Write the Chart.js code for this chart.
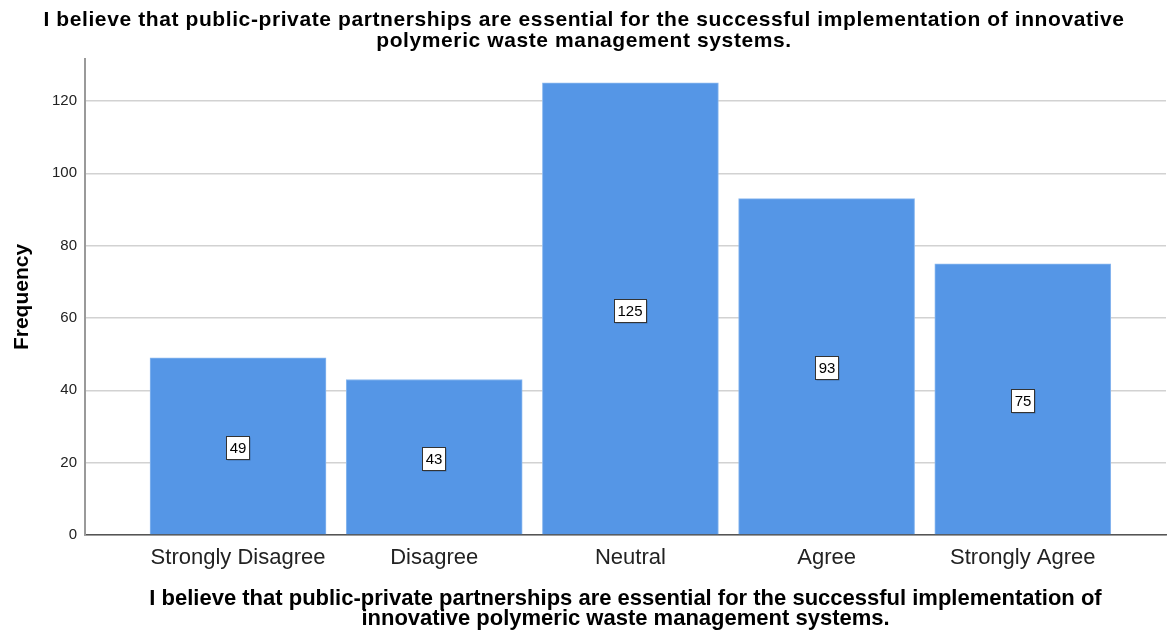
<!DOCTYPE html>
<html>
<head>
<meta charset="utf-8">
<script src="https://cdn.jsdelivr.net/npm/chart.js@4.4.1/dist/chart.umd.min.js"></script>
<style>
  html, body { margin: 0; padding: 0; background: #ffffff; }
  #wrap { width: 1167px; height: 633px; position: relative; }
</style>
</head>
<body>
<div id="wrap"><canvas id="chart" width="1167" height="633"></canvas></div>
<script>
// Survey item responses (frequency counts)
const categories = ['Strongly Disagree', 'Disagree', 'Neutral', 'Agree', 'Strongly Agree'];
const frequencies = [49, 43, 125, 93, 75];
const yTicks = [0, 20, 40, 60, 80, 100, 120];
const titleLines = [
  'I believe that public-private partnerships are essential for the successful implementation of innovative',
  'polymeric waste management systems.'
];
const xTitleLines = [
  'I believe that public-private partnerships are essential for the successful implementation of',
  'innovative polymeric waste management systems.'
];

const FONT = '"Liberation Sans", Arial, Helvetica, sans-serif';

// Chart title drawn above the plot area
const topTitle = {
  id: 'topTitle',
  afterDraw(chart) {
    const ctx = chart.ctx;
    ctx.save();
    ctx.fillStyle = '#000';
    ctx.font = 'bold 21px ' + FONT;
    if ('letterSpacing' in ctx) ctx.letterSpacing = '0.6px';
    ctx.textAlign = 'center';
    ctx.textBaseline = 'middle';
    titleLines.forEach((line, i) => ctx.fillText(line, 584, 20 + i * 21));
    ctx.restore();
  }
};

// Boxed value labels at the middle of each bar
const valueBoxes = {
  id: 'valueBoxes',
  afterDatasetsDraw(chart) {
    const ctx = chart.ctx;
    const meta = chart.getDatasetMeta(0);
    ctx.save();
    ctx.font = '15px ' + FONT;
    ctx.textAlign = 'center';
    ctx.textBaseline = 'middle';
    meta.data.forEach((bar, i) => {
      const text = String(frequencies[i]);
      const cx = Math.round(bar.x);
      const cy = Math.round((bar.y + bar.base) / 2) + 2;
      const w = Math.ceil(ctx.measureText(text).width) + 6;
      const h = 23;
      const x0 = cx - Math.round(w / 2) + 0.5;
      const y0 = cy - Math.round(h / 2) + 0.5;
      ctx.fillStyle = 'rgba(0,0,0,0.25)';
      ctx.fillRect(x0 + 1, y0 + 1, w, h);
      ctx.fillStyle = '#ffffff';
      ctx.fillRect(x0, y0, w, h);
      ctx.strokeStyle = '#333333';
      ctx.lineWidth = 1;
      ctx.strokeRect(x0, y0, w, h);
      ctx.fillStyle = '#000';
      ctx.fillText(text, cx, cy + 1);
    });
    ctx.restore();
  }
};

new Chart(document.getElementById('chart'), {
  type: 'bar',
  data: {
    datasets: [{
      data: frequencies.map((v, i) => ({ x: i, y: v })),
      backgroundColor: '#5596e6',
      borderColor: '#8ab8ef',
      borderWidth: 1,
      barThickness: 176
    }]
  },
  options: {
    responsive: false,
    animation: false,
    events: [],
    layout: { padding: { top: 59, right: 1, left: 0, bottom: 0 } },
    plugins: {
      legend: { display: false },
      tooltip: { enabled: false }
    },
    scales: {
      x: {
        type: 'linear',
        offset: false,
        min: -0.78,
        max: 4.73,
        afterBuildTicks(scale) {
          scale.ticks = categories.map((c, i) => ({ value: i }));
        },
        afterFit(scale) { scale.height = 98; },
        grid: { display: false, drawTicks: false, offset: false },
        border: { display: true, color: '#555555', width: 1.5 },
        ticks: {
          padding: 10,
          color: '#222',
          font: { family: FONT, size: 22 },
          callback: (v) => categories[v] ?? ''
        },
        title: {
          display: true,
          text: xTitleLines,
          color: '#000',
          font: { family: FONT, size: 22, weight: 'bold', lineHeight: 0.9 },
          padding: { top: 0, bottom: 4 }
        }
      },
      y: {
        min: 0,
        max: 131.6,
        afterBuildTicks(scale) {
          scale.ticks = yTicks.map(v => ({ value: v }));
        },
        afterFit(scale) { scale.width = 85; },
        grid: { color: '#d2d2d2', lineWidth: 1.5, drawTicks: false },
        border: { display: true, color: '#9a9a9a', width: 2 },
        ticks: {
          padding: 8,
          color: '#222',
          font: { family: FONT, size: 15 }
        },
        title: {
          display: true,
          text: 'Frequency',
          color: '#000',
          font: { family: FONT, size: 21, weight: 'bold' },
          padding: { top: 10, bottom: 0 }
        }
      }
    }
  },
  plugins: [topTitle, valueBoxes]
});
</script>
</body>
</html>
